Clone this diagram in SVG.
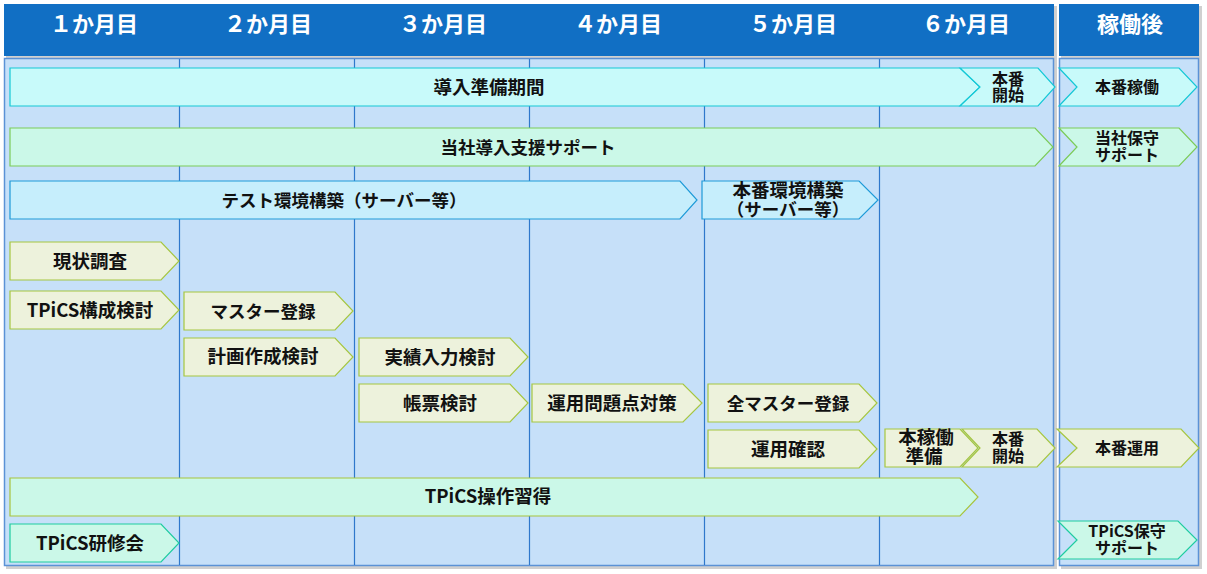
<svg xmlns="http://www.w3.org/2000/svg" width="1207" height="574" viewBox="0 0 1207 574">
<style>
.hdr{fill:#116fc4}
.body{fill:#c6e0f9;stroke:#5b92d6;stroke-width:1.5}
.shadow{fill:#d0d0d0}
.col{stroke:#2f78cc;stroke-width:1.2}
.ht{font-family:"Noto Sans CJK JP","Liberation Sans",sans-serif;font-weight:bold;font-size:22px;fill:#fff;text-anchor:middle}
.t{font-family:"Noto Sans CJK JP","Liberation Sans",sans-serif;font-weight:bold;font-size:18.5px;fill:#111;text-anchor:middle}
.k{font-size:17.5px}
.s{font-size:16px}
.cyan{fill:#c8fafa;stroke:#14c8d6;stroke-width:1.2}
.mint{fill:#cbf8e8;stroke:#7ccc58;stroke-width:1.2}
.sky{fill:#c6eefc;stroke:#1e9ad8;stroke-width:1.2}
.beige{fill:#edf2dc;stroke:#a6c640;stroke-width:1.2}
.mintY{fill:#cbf8e8;stroke:#a8c43c;stroke-width:1.2}
.mintT{fill:#cbf8e8;stroke:#1ecca0;stroke-width:1.2}
</style>
<rect width="1207" height="574" fill="#ffffff"/>
<g id="frame">
  <rect class="shadow" x="6" y="6" width="1051" height="563"/>
  <rect class="shadow" x="1061" y="6" width="141" height="563"/>
  <rect class="hdr" x="4" y="4" width="1050" height="52"/>
  <rect class="hdr" x="1059" y="4" width="140" height="52"/>
  <rect class="body" x="4.5" y="58.5" width="1049" height="507"/>
  <rect class="body" x="1059.5" y="58.5" width="139" height="507"/>
  <line class="col" x1="179.5" y1="59" x2="179.5" y2="565"/>
  <line class="col" x1="354.5" y1="59" x2="354.5" y2="565"/>
  <line class="col" x1="529.5" y1="59" x2="529.5" y2="565"/>
  <line class="col" x1="704.5" y1="59" x2="704.5" y2="565"/>
  <line class="col" x1="879.5" y1="59" x2="879.5" y2="565"/>
  <text class="ht" x="94" y="32">１か月目</text>
  <text class="ht" x="268" y="32">２か月目</text>
  <text class="ht" x="443" y="32">３か月目</text>
  <text class="ht" x="618" y="32">４か月目</text>
  <text class="ht" x="793" y="32">５か月目</text>
  <text class="ht" x="966" y="32">６か月目</text>
  <text class="ht" x="1130" y="32">稼働後</text>
</g>
<g id="connectors"></g>
<g id="n-dounyu-junbi"><polygon class="cyan" points="10,68 960,68 980,87 960,106 10,106"/><text class="t" x="489" y="93.5">導入準備期間</text></g>
<g id="n-honban-kaishi-1"><polygon class="cyan" points="960,68 1038,68 1055,87 1038,106 960,106 980,87"/><text class="t s" x="1008" y="85"><tspan x="1008">本番</tspan><tspan x="1008" dy="16">開始</tspan></text></g>
<g id="n-honban-kado"><polygon class="cyan" points="1059,68 1179,68 1197,87 1179,106 1059,106 1077,87"/><text class="t s" x="1127" y="93">本番稼働</text></g>
<g id="n-shien"><polygon class="mint" points="10,128 1035,128 1053,147 1035,166 10,166"/><text class="t k" x="528" y="153.5">当社導入支援サポート</text></g>
<g id="n-hoshu"><polygon class="mint" points="1059,128 1179,128 1197,147 1179,166 1059,166 1077,147"/><text class="t s" x="1127" y="144"><tspan x="1127">当社保守</tspan><tspan x="1127" dy="17">サポート</tspan></text></g>
<g id="n-test-env"><polygon class="sky" points="10,181 680,181 697,200 680,219 10,219"/><text class="t k" x="344" y="206.5">テスト環境構築（サーバー等）</text></g>
<g id="n-prod-env"><polygon class="sky" points="702,181 859,181 878,200 859,219 702,219"/><text class="t" x="788" y="197"><tspan x="788">本番環境構築</tspan><tspan class="k" x="788" dy="19">（サーバー等）</tspan></text></g>
<g id="n-genjo"><polygon class="beige" points="10,242 161,242 179,261 161,280 10,280"/><text class="t" x="90" y="267.5">現状調査</text></g>
<g id="n-kosei"><polygon class="beige" points="10,291 161,291 179,310 161,329 10,329"/><text class="t" x="90" y="316.5">TPiCS構成検討</text></g>
<g id="n-master"><polygon class="beige" points="184,292 335,292 353,311 335,330 184,330"/><text class="t k" x="263" y="317.5">マスター登録</text></g>
<g id="n-keikaku"><polygon class="beige" points="184,338 335,338 353,357 335,376 184,376"/><text class="t" x="263" y="362.5">計画作成検討</text></g>
<g id="n-jisseki"><polygon class="beige" points="359,338 510,338 528,357 510,376 359,376"/><text class="t" x="440" y="363.5">実績入力検討</text></g>
<g id="n-chohyo"><polygon class="beige" points="359,384 510,384 528,403 510,422 359,422"/><text class="t" x="440" y="409.5">帳票検討</text></g>
<g id="n-unyo-mondai"><polygon class="beige" points="532,384 683,384 702,403 683,422 532,422"/><text class="t" x="612" y="409.5">運用問題点対策</text></g>
<g id="n-zen-master"><polygon class="beige" points="708,384 859,384 877,403 859,422 708,422"/><text class="t k" x="788" y="409.5">全マスター登録</text></g>
<g id="n-unyo-kakunin"><polygon class="beige" points="708,430 859,430 877,449 859,468 708,468"/><text class="t" x="788" y="455.5">運用確認</text></g>
<g id="n-honkado-junbi"><polygon class="beige" points="885,429 960,429 978,448 960,467 885,467"/><text class="t" x="926" y="444"><tspan x="926">本稼働</tspan><tspan x="924" dy="19">準備</tspan></text></g>
<g id="n-honban-kaishi-2"><polygon class="beige" points="962,429 1037,429 1055,448 1037,467 962,467 980,448"/><text class="t s" x="1008" y="445"><tspan x="1008">本番</tspan><tspan x="1008" dy="17">開始</tspan></text></g>
<g id="n-honban-unyo"><polygon class="beige" points="1057,429 1181,429 1199,448 1181,467 1057,467 1077,448"/><text class="t s" x="1127" y="454">本番運用</text></g>
<g id="n-sosa"><polygon class="mintY" points="10,478 960,478 978,497 960,516 10,516"/><text class="t" x="488" y="503">TPiCS操作習得</text></g>
<g id="n-kenshu"><polygon class="mintT" points="10,524 161,524 179,543 161,562 10,562"/><text class="t" x="90" y="549.5">TPiCS研修会</text></g>
<g id="n-tpics-hoshu"><polygon class="mintT" points="1058,521 1178,521 1197,540 1178,559 1058,559 1077,540"/><text class="t s" x="1127" y="537"><tspan x="1127">TPiCS保守</tspan><tspan x="1127" dy="17">サポート</tspan></text></g>
</svg>
